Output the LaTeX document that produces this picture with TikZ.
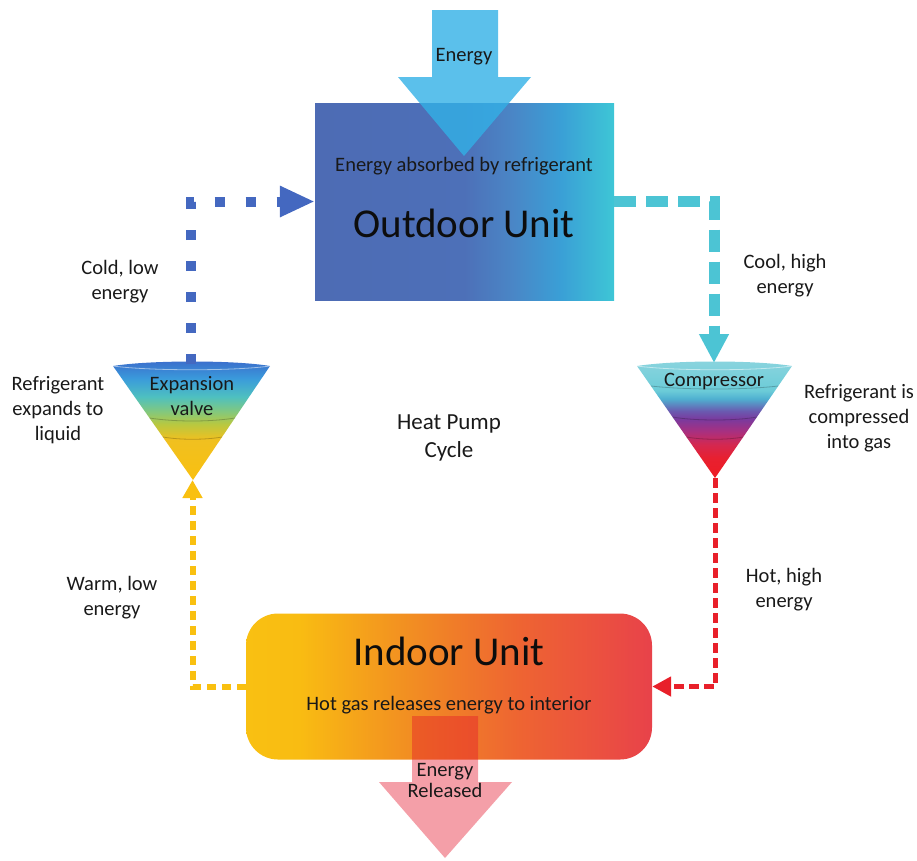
\documentclass[tikz,border=0pt]{standalone}
\usepackage{fontspec}
\setmainfont{Carlito}
\usetikzlibrary{arrows.meta}

\definecolor{od1}{HTML}{4D6BB4}
\definecolor{od2}{HTML}{4D70B8}
\definecolor{od3}{HTML}{4A86C6}
\definecolor{od4}{HTML}{3A9FD6}
\definecolor{od5}{HTML}{3EC6D6}
\definecolor{in1}{HTML}{F9C012}
\definecolor{in2}{HTML}{F9BC12}
\definecolor{in3}{HTML}{F3961F}
\definecolor{in4}{HTML}{F07E28}
\definecolor{in5}{HTML}{EE6432}
\definecolor{in6}{HTML}{EB5040}
\definecolor{in7}{HTML}{E8424A}
\definecolor{ev1}{HTML}{3B6CCB}
\definecolor{ev2}{HTML}{3A9ADB}
\definecolor{ev3}{HTML}{4EC0C0}
\definecolor{ev4}{HTML}{80C880}
\definecolor{ev5}{HTML}{B8C840}
\definecolor{ev6}{HTML}{F0C020}
\definecolor{ev7}{HTML}{F9C010}
\definecolor{cp1}{HTML}{8AD4DE}
\definecolor{cp2}{HTML}{6CCCD8}
\definecolor{cp3}{HTML}{4FB0D0}
\definecolor{cp4}{HTML}{6A5AB0}
\definecolor{cp5}{HTML}{7A3A9E}
\definecolor{cp6}{HTML}{A83080}
\definecolor{cp7}{HTML}{D42850}
\definecolor{cp8}{HTML}{E82030}
\definecolor{cp9}{HTML}{EE1C24}
\definecolor{enblue}{RGB}{50,176,230}
\definecolor{enred}{HTML}{E4172B}
\definecolor{cblue}{HTML}{4468C0}
\definecolor{cteal}{HTML}{4CC4D4}
\definecolor{cyel}{HTML}{F9C010}
\definecolor{cred}{HTML}{E8202A}

\pgfdeclarehorizontalshading{outdoorsh}{100bp}{color(0bp)=(od1); color(25bp)=(od1); color(50bp)=(od2); color(58bp)=(od3); color(66bp)=(od4); color(75bp)=(od5); color(100bp)=(od5)}
\pgfdeclarehorizontalshading{indoorsh}{100bp}{color(0bp)=(in1); color(25bp)=(in1); color(31.6bp)=(in2); color(42.7bp)=(in3); color(50.1bp)=(in4); color(58.7bp)=(in5); color(68.6bp)=(in6); color(75bp)=(in7); color(100bp)=(in7)}
\pgfdeclareverticalshading{evsh}{100bp}{color(0bp)=(ev7); color(25bp)=(ev7); color(41.9bp)=(ev6); color(48.3bp)=(ev5); color(53.8bp)=(ev4); color(59.7bp)=(ev3); color(67.4bp)=(ev2); color(75bp)=(ev1); color(100bp)=(ev1)}
\pgfdeclareverticalshading{cpsh}{100bp}{color(0bp)=(cp9); color(25bp)=(cp9); color(33.6bp)=(cp8); color(39.2bp)=(cp7); color(44.8bp)=(cp6); color(50bp)=(cp5); color(53.4bp)=(cp4); color(58.6bp)=(cp3); color(62.1bp)=(cp2); color(75bp)=(cp1); color(100bp)=(cp1)}

\begin{document}
\begin{tikzpicture}[x=1pt,y=-1pt,
  lbl/.style={font=\fontsize{20.5}{25}\selectfont, align=center, inner sep=0pt, text=black!90},
  biglbl/.style={font=\fontsize{41}{49}\selectfont, inner sep=0pt, anchor=base, text=black!95},
  band/.style={black, line width=0.8pt, opacity=0.22},
  rim/.style={white, line width=0.8pt, opacity=0.5},
  conn/.style={line cap=butt, line join=miter}]
\useasboundingbox (0,0) rectangle (917,860);

% ---------- Outdoor unit ----------
\node[shade, shading=outdoorsh, minimum width=299pt, minimum height=197pt, inner sep=0pt, draw=none] (outdoor) at (464.5,201.5) {};
\fill[enblue, opacity=0.8] (432,10) -- (498,10) -- (498,77) -- (531,77) -- (464,156) -- (398,77) -- (432,77) -- cycle;
\node[lbl] (energy) at (464,57) {Energy};
\node[lbl, anchor=base] (absorbed) at (464,171) {Energy absorbed by refrigerant};
\node[biglbl] (outdoortxt) at (464,237) {Outdoor Unit};

% ---------- Indoor unit ----------
\node[shade, shading=indoorsh, rounded corners=32pt, minimum width=406pt, minimum height=146pt, inner sep=0pt, draw=none] (indoor) at (449,686.5) {};
\fill[enred, opacity=0.41] (412,716) -- (478,716) -- (478,782) -- (512,782) -- (445,858) -- (379,782) -- (412,782) -- cycle;
\node[biglbl] (indoortxt) at (449,665) {Indoor Unit};
\node[lbl, anchor=base] (hotgas) at (449,710) {Hot gas releases energy to interior};
\node[lbl, font=\fontsize{20.5}{21}\selectfont] (released) at (445,780) {Energy\\Released};

% ---------- Expansion valve ----------
\shade[shading=evsh] (113,366) .. controls (150,360) and (235,360) .. (270,366) -- (193,480) -- cycle;
\draw[rim] (113,366) .. controls (150,371) and (235,371) .. (270,366);
\draw[band] (149.5,418) .. controls (175,422) and (210,422) .. (235,418);
\draw[band] (163,437) .. controls (180,440) and (205,440) .. (222,437);
\coordinate (evtop) at (191,364);
\coordinate (evtip) at (192.5,480);
\node[lbl] (evtxt) at (192,396) {Expansion\\valve};

% ---------- Compressor ----------
\shade[shading=cpsh] (637,366) .. controls (675,360) and (755,360) .. (792,366) -- (715,478) -- cycle;
\draw[rim] (637,366) .. controls (675,371) and (755,371) .. (792,366);
\draw[band] (651,386) .. controls (685,390) and (745,390) .. (778,386);
\draw[band] (672.5,417) .. controls (695,421) and (735,421) .. (757,417);
\draw[band] (686.4,437) .. controls (703,440) and (727,440) .. (743.2,437);
\coordinate (cptop) at (714,363);
\coordinate (cptip) at (715,478);
\node[lbl] (cptxt) at (714,381) {Compressor};

% ---------- Connectors ----------
\draw[conn, cblue, line width=10pt, dash pattern=on 10pt off 21pt,
  -{Triangle[width=29pt,length=35pt]}] (evtop) |- (outdoor.west);
\draw[conn, cteal, line width=11pt, dash pattern=on 22pt off 10pt,
  -{Triangle[width=28pt,length=29pt]}] (outdoor.east) -| (cptop);
\draw[conn, cyel, line width=6pt, dash pattern=on 9pt off 6pt,
  -{Triangle[width=19pt,length=18pt]}] (indoor.west) -| (evtip);
\draw[conn, cred, line width=5pt, dash pattern=on 10pt off 5pt,
  -{Triangle[width=19pt,length=19pt]}] (cptip) |- (indoor.east);

% ---------- Labels ----------
\node[lbl] (coldlbl) at (120,282) {Cold, low\\energy};
\node[lbl] (expandlbl) at (58,410) {Refrigerant\\expands to\\liquid};
\node[lbl] (coollbl) at (785,276) {Cool, high\\energy};
\node[lbl] (complbl) at (859,418) {Refrigerant is\\compressed\\into gas};
\node[lbl, font=\fontsize{23}{28}\selectfont] (cycle) at (449,438) {Heat Pump\\Cycle};
\node[lbl] (warmlbl) at (112,598) {Warm, low\\energy};
\node[lbl] (hotlbl) at (784,590) {Hot, high\\energy};
\end{tikzpicture}
\end{document}
